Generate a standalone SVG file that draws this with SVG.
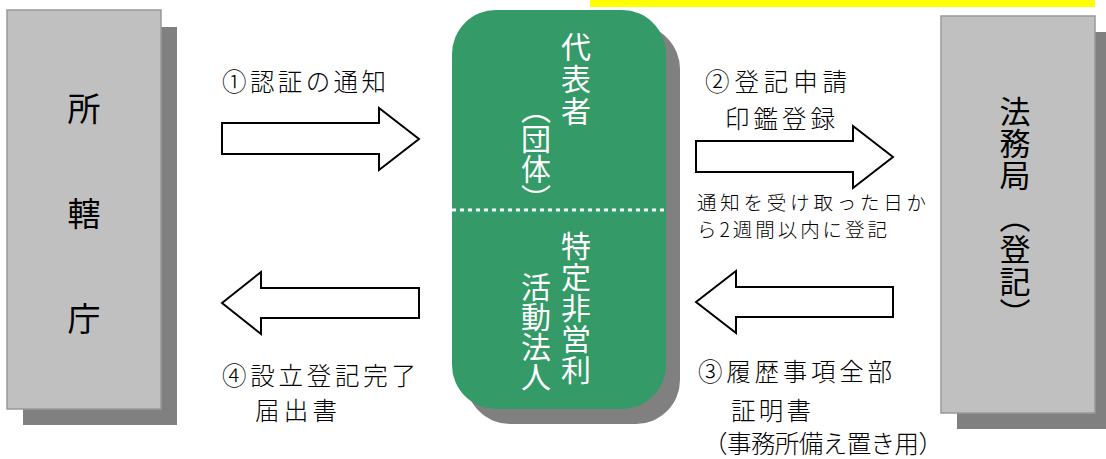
<svg xmlns="http://www.w3.org/2000/svg" width="1106" height="459" viewBox="0 0 1106 459">
<style>
.shadow{fill:#808080}
.gbox{fill:#c0c0c0;stroke:#999999;stroke-width:1.5}
.arrow{fill:#ffffff;stroke:#000000;stroke-width:2;stroke-linejoin:miter}
.lbl{font-family:"Noto Sans CJK JP","Liberation Serif",serif;font-size:24.5px;font-weight:300;fill:#000}
.small{font-size:19.5px}
.boxt{font-family:"Noto Sans CJK JP","Liberation Sans",sans-serif;fill:#000}
.vt{font-family:"Noto Sans CJK JP","Liberation Sans",sans-serif;writing-mode:vertical-rl}
.white{fill:#ffffff}
</style>
<rect x="590" y="0" width="505" height="7" fill="#ffff00"/>
<g id="node-shokatsucho">
<rect class="shadow" x="23" y="27" width="154" height="398"/>
<rect class="gbox" x="7" y="10" width="154" height="399"/>
<text class="boxt" x="84" y="121" font-size="33" text-anchor="middle">所</text>
<text class="boxt" x="84" y="226" font-size="33" text-anchor="middle">轄</text>
<text class="boxt" x="84" y="331" font-size="33" text-anchor="middle">庁</text>
</g>
<g id="node-npo">
<rect class="shadow" x="466" y="25" width="214" height="399" rx="44"/>
<rect x="452" y="10" width="214" height="399" rx="44" fill="#349a67"/>
<line x1="452" y1="210" x2="666" y2="210" stroke="#ffffff" stroke-width="3" stroke-dasharray="4 4"/>
<text class="vt white" x="576" y="31.5" font-size="30" letter-spacing="2">代表者</text>
<text class="vt white" x="536" y="94" font-size="30">（団体）</text>
<text class="vt white" x="576" y="230.5" font-size="30" letter-spacing="1">特定非営利</text>
<text class="vt white" x="536" y="271.5" font-size="30">活動法人</text>
</g>
<g id="node-homukyoku">
<rect class="shadow" x="957" y="32" width="154" height="397"/>
<rect class="gbox" x="941" y="16" width="154" height="397"/>
<text class="vt" x="1015" y="95.5" font-size="31" letter-spacing="1" fill="#000">法務局</text>
<text class="vt" x="1015" y="202" font-size="31" letter-spacing="1" fill="#000">（登記）</text>
</g>
<g id="connectors">
<polygon class="arrow" points="222,123 379,123 379,108 419,139 379,170 379,154 222,154"/>
<polygon class="arrow" points="696,141 853,141 853,126 893,157 853,188 853,172 696,172"/>
<polygon class="arrow" points="696,302 736,271 736,287 893,287 893,317 736,317 736,333"/>
<polygon class="arrow" points="222,303 261,272 261,288 419,288 419,318 261,318 261,334"/>
</g>
<g id="labels">
<text class="lbl" x="222" y="91" textLength="164" lengthAdjust="spacing">①認証の通知</text>
<text class="lbl" x="705" y="91" textLength="142" lengthAdjust="spacing">②登記申請</text>
<text class="lbl" x="725" y="128" textLength="110" lengthAdjust="spacing">印鑑登録</text>
<text class="lbl small" x="697" y="210" textLength="229" lengthAdjust="spacing">通知を受け取った日か</text>
<text class="lbl small" x="697" y="237" textLength="190" lengthAdjust="spacing">ら2週間以内に登記</text>
<text class="lbl" x="698" y="381" textLength="194" lengthAdjust="spacing">③履歴事項全部</text>
<text class="lbl" x="731" y="420" textLength="80" lengthAdjust="spacing">証明書</text>
<text class="lbl" x="703" y="453" textLength="240" lengthAdjust="spacing">（事務所備え置き用）</text>
<text class="lbl" x="222" y="385" textLength="194" lengthAdjust="spacing">④設立登記完了</text>
<text class="lbl" x="255" y="420" textLength="82" lengthAdjust="spacing">届出書</text>
</g>
</svg>
